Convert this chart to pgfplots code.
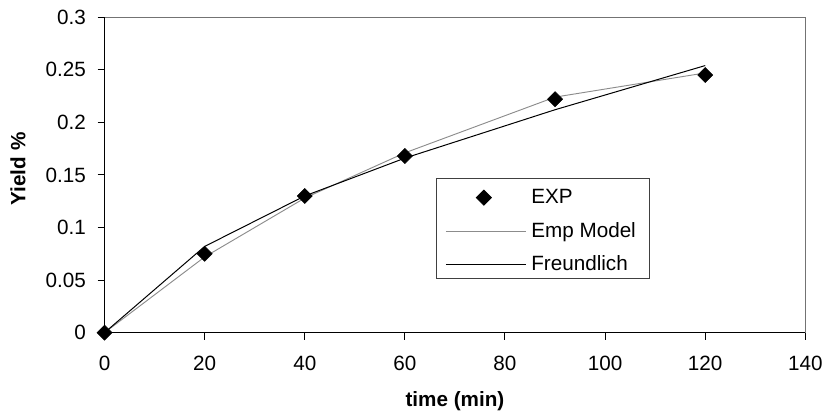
\documentclass[border=0pt]{standalone}
\usepackage{fontspec}
\setmainfont{Liberation Sans}
\usepackage{pgfplots}
\pgfplotsset{compat=1.18}

\pgfplotsset{
    leg mark/.style={legend image code/.code={\draw[##1] plot coordinates {(28.5pt,-2.2pt)};}},
    leg line/.style={legend image code/.code={\draw[##1] (0pt,-2.2pt) -- (60pt,-2.2pt);}},
}

\begin{document}
\begin{tikzpicture}
\path[use as bounding box] (-78.4pt,-62.5pt) rectangle (539.6pt,249.5pt);
\begin{axis}[
    at={(0,0)}, anchor=south west,
    scale only axis,
    width=525.6pt, height=236.6pt,
    xmin=0, xmax=140, ymin=0, ymax=0.3,
    axis lines*=left,
    axis line style={black, line width=0.75pt},
    tick align=outside,
    major tick length=5.25pt,
    tick style={black, line width=0.75pt},
    xtick={0,20,...,140},
    ytick={0,0.05,0.1,0.15,0.2,0.25,0.3},
    yticklabels={0,0.05,0.1,0.15,0.2,0.25,0.3},
    font=\fontsize{15.5}{18}\selectfont,
    /pgf/number format/assume math mode=true,
    yticklabel style={anchor=east, inner sep=0pt, xshift=-8.6pt},
    xticklabel style={anchor=north, inner sep=0pt, yshift=-12.2pt},
    xlabel={\textbf{time (min)}},
    ylabel={\textbf{Yield \%}},
    xlabel style={at={(rel axis cs:0.5,0)}, anchor=center, yshift=-51pt},
    ylabel style={at={(rel axis cs:0,0.519)}, anchor=center, rotate=0, yshift=64.9pt},
    clip=false,
    legend style={
        at={(rel axis cs:0.4729,0.4914)}, anchor=north west,
        draw=black!75, line width=0.6pt,
        inner xsep=6.75pt, inner ysep=3.2pt,
        row sep=6.5pt,
        nodes={inner xsep=3.75pt, inner ysep=0pt, text height=16pt, text depth=2.6pt},
    },
    legend cell align=left,
]
\draw[black!55, line width=0.75pt] (rel axis cs:0,1) -- (rel axis cs:1,1) -- (rel axis cs:1,0);

\addplot[only marks, mark=square*, mark size=4pt, mark options={rotate=45, fill=black, draw=black}, leg mark]
coordinates {(0,0) (20,0.075) (40,0.130) (60,0.168) (90,0.222) (120,0.245)};
\addlegendentry{EXP}

\addplot[black!45, line width=0.7pt, mark=none, leg line]
coordinates {(0,0) (20,0.072) (40,0.128) (60,0.171) (90,0.224) (120,0.247)};
\addlegendentry{Emp Model}

\addplot[black, line width=0.75pt, mark=none, leg line]
coordinates {(0,0) (20,0.082) (40,0.130) (60,0.166) (90,0.212) (120,0.254)};
\addlegendentry{Freundlich}
\end{axis}
\end{tikzpicture}
\end{document}
